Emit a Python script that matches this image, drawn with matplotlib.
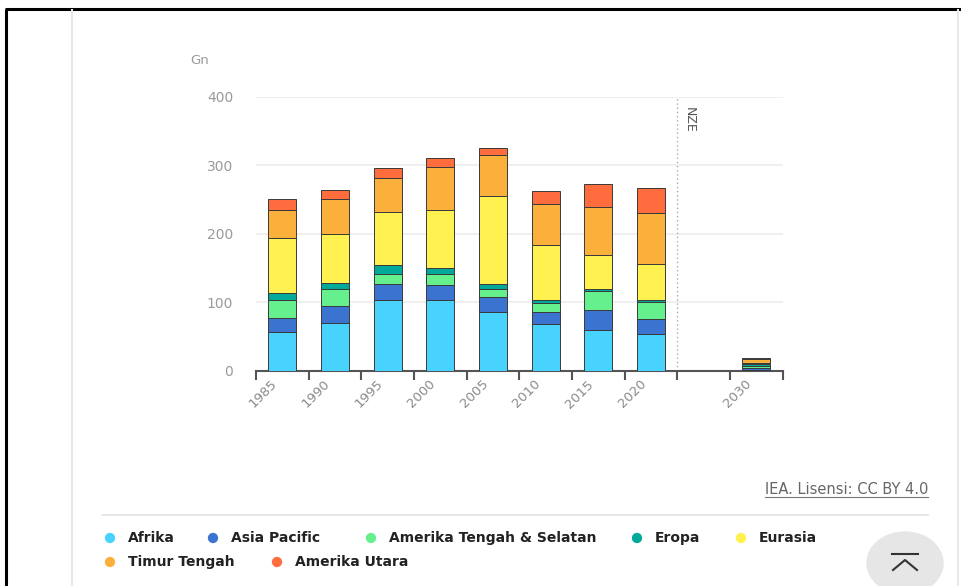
import matplotlib
matplotlib.use('Agg')
import matplotlib.pyplot as plt
from matplotlib.patches import Ellipse
from matplotlib.transforms import ScaledTranslation

# ---- data ----
years = ['1985', '1990', '1995', '2000', '2005', '2010', '2015', '2020', '', '2030']
afrika = [57, 70, 103, 103, 86, 68, 60, 54, 0, 2]
asia_pacific = [20, 25, 24, 22, 22, 18, 29, 22, 0, 2]
amerika_ts = [27, 25, 15, 16, 11, 13, 28, 25, 0, 3]
eropa = [9, 8, 12, 9, 8, 4, 2, 2, 0, 3]
eurasia = [81, 71, 78, 85, 128, 80, 50, 53, 0, 2]
timur_tengah = [40, 52, 49, 62, 60, 60, 70, 74, 0, 5]
amerika_utara = [17, 13, 15, 14, 10, 19, 34, 36, 0, 2]

series_names = ['Afrika', 'Asia Pacific', 'Amerika Tengah & Selatan', 'Eropa',
                'Eurasia', 'Timur Tengah', 'Amerika Utara']
series_vals = [afrika, asia_pacific, amerika_ts, eropa, eurasia, timur_tengah, amerika_utara]
colors = ['#48d3ff', '#3b73d1', '#66f08d', '#00a99a', '#fff150', '#fbb03c', '#ff6d3f']
yticks = [0, 100, 200, 300, 400]

W, H = 961, 586
fig = plt.figure(figsize=(W / 100, H / 100), dpi=100)
fig.patch.set_facecolor('white')

# overlay in pixel coordinates
ov = fig.add_axes([0, 0, 1, 1], zorder=0)
ov.set_xlim(0, W)
ov.set_ylim(H, 0)
ov.axis('off')

# frame and page lines
ov.plot([5, W], [9, 9], color='black', lw=2.2, solid_capstyle='butt')
ov.plot([6, 6], [9, H], color='black', lw=2.2, solid_capstyle='butt')
ov.plot([72, 72], [10, H], color='#e8e8e8', lw=1.5)
ov.plot([958, 958], [10, H], color='#e8e8e8', lw=1.5)

# chart axes
x0, x1 = 256, 782.7
yb, yt = 371, 96.5
ax = fig.add_axes([x0 / W, (H - yb) / H, (x1 - x0) / W, (yb - yt) / H], zorder=2)
ax.set_facecolor('none')

idx = [i for i, y in enumerate(years) if y != '']
bottoms = [0] * len(years)
for name, vals, c in zip(series_names, series_vals, colors):
    ax.bar([i for i in idx], [vals[i] for i in idx], bottom=[bottoms[i] for i in idx],
           width=0.53, color=c, edgecolor='#3a3a3a', linewidth=0.7, zorder=3)
    bottoms = [b + v for b, v in zip(bottoms, vals)]

ax.set_xlim(-0.5, len(years) - 0.5)
ax.set_ylim(0, 400)
ax.set_yticks(yticks)
ax.set_yticklabels([str(v) for v in yticks])
ax.tick_params(axis='y', length=0, pad=16.5, labelsize=10, labelcolor='#9a9a9a')
ax.yaxis.grid(True, color='#ececec', lw=1.2, zorder=0)
ax.set_axisbelow(True)

ax.set_xticks([i - 0.5 for i in range(len(years) + 1)])
ax.set_xticklabels([''] * (len(years) + 1))
ax.set_xticks(range(len(years)), minor=True)
ax.set_xticklabels(years, minor=True, rotation=45, ha='right', va='center',
                   rotation_mode='anchor')
ax.tick_params(axis='x', which='major', length=6.5, width=1.5, color='#555555', direction='out')
ax.tick_params(axis='x', which='minor', length=0, pad=8, labelsize=9.5, labelcolor='#8a8a8a')
off = ScaledTranslation(-7 / 100, 0, fig.dpi_scale_trans)
for lab in ax.get_xticklabels(minor=True):
    lab.set_transform(lab.get_transform() + off)

for s in ['top', 'right', 'left']:
    ax.spines[s].set_visible(False)
ax.spines['bottom'].set_color('#555555')
ax.spines['bottom'].set_linewidth(1.5)

# NZE separator
ax.axvline(7.5, ymin=0, ymax=1, color='#aaaaaa', ls=(0, (1, 2)), lw=1, zorder=1)
ax.text(7.6, 385, 'NZE', rotation=270, ha='left', va='top', fontsize=9, color='#555555')

# unit label
ov.text(190, 60, 'Gn', ha='left', va='center', fontsize=9.5, color='#9a9a9a')

# source
ov.text(928, 489, 'IEA. Lisensi: CC BY 4.0', ha='right', va='center', fontsize=10.5,
        color='#666666')
ov.plot([765, 928], [497, 497], color='#777777', lw=0.8)
ov.plot([102, 928], [515, 515], color='#e3e3e3', lw=1.2)

# legend
leg_pos = [(110, 538), (213, 538), (371, 538), (637, 538), (741, 538), (110, 562), (277, 562)]
for (px, py), name, c in zip(leg_pos, series_names, colors):
    ov.scatter([px], [py], s=55, color=c, edgecolors='none', zorder=3)
    ov.text(px + 18, py, name, ha='left', va='center', fontsize=10, color='#222222',
            fontweight='bold')

# back-to-top button
ov.add_patch(Ellipse((905, 563), 76, 62, color='#e6e6e6', zorder=2))
ov.plot([892, 918], [554, 554], color='#333333', lw=1.5, zorder=3)
ov.plot([893, 905, 917], [570, 560, 570], color='#333333', lw=1.5, zorder=3)

fig.savefig('out.png', dpi=100)
